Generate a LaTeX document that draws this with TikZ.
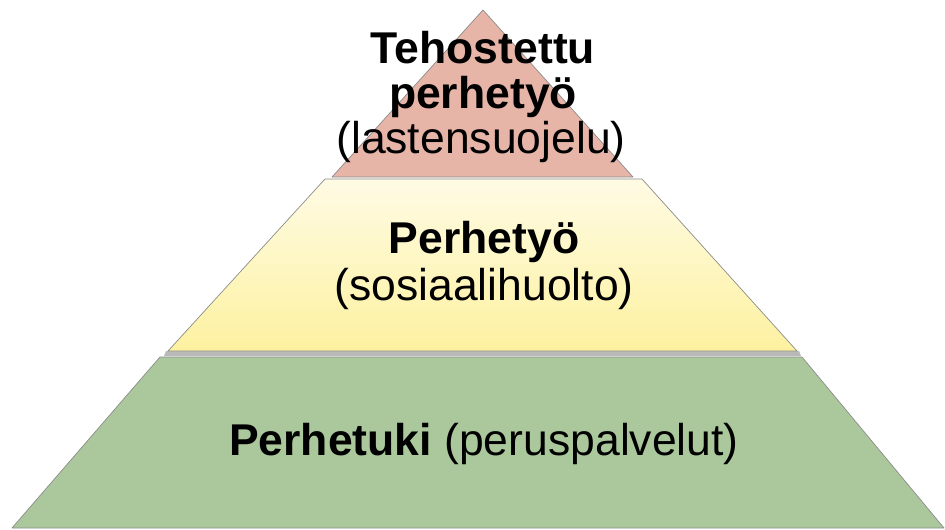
\documentclass[tikz,border=0pt]{standalone}
\usepackage{fontspec}
\setmainfont{Liberation Sans}
\usetikzlibrary{positioning,calc}
\definecolor{tierpink}{HTML}{E7B5A7}
\definecolor{tieryellowtop}{HTML}{FFFBE4}
\definecolor{tieryellowbot}{HTML}{FDF1A0}
\definecolor{tiergreen}{HTML}{ABC89C}
\definecolor{tierline}{HTML}{8C8C8C}

\begin{document}
\begin{tikzpicture}[x=1pt,y=-1pt,semithick]
			\tikzstyle{tier}=[draw=tierline,line width=0.7pt,line join=round]
			\tikzstyle{tiertext}=[inner sep=0pt,anchor=base,font=\fontsize{44.5}{48}\selectfont]
			
			\useasboundingbox (0,0) rectangle (945,530);
			
			% tiers, bottom first
			\fill[gray!55] (166,351) -- (799,351) -- (801,356) -- (164,356) -- cycle;
			\path[tier,fill=tiergreen] (160,357) -- (802,357) -- (944,528) -- (12,528) -- cycle;
			\path[tier,top color=tieryellowtop,bottom color=tieryellowbot] (325,179) -- (642,179) -- (797,351) -- (168,351) -- cycle;
			\path[tier,fill=tierpink] (483,10) -- (633,177) -- (332,177) -- cycle;
			
			% texts
			\node[tiertext]    (T1) at (483,63)		{\bfseries Tehostettu};
			\node[tiertext]    (T2) at (483,108)		{\bfseries perhetyö};
			\node[tiertext]    (T3) at (481,153)		{(lastensuojelu)};
			
			\node[tiertext]    (M1) at (484,253)		{\bfseries Perhetyö};
			\node[tiertext]    (M2) at (484,300)		{(sosiaalihuolto)};
			
			\node[tiertext]    (B1) at (484,455)		{\textbf{Perhetuki} (peruspalvelut)};
\end{tikzpicture}
\end{document}
